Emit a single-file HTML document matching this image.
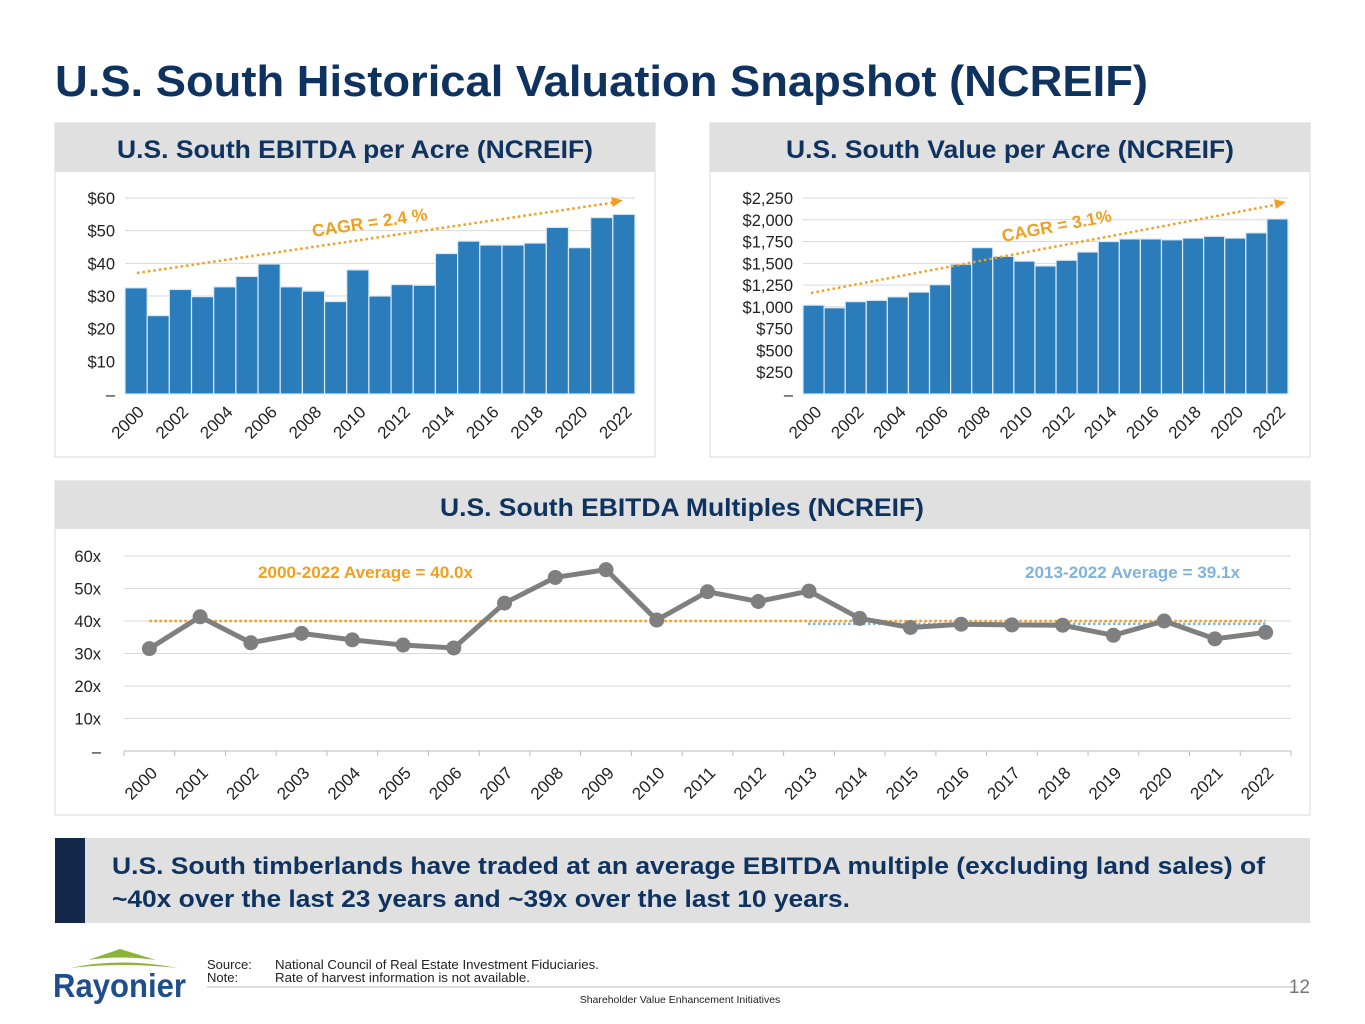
<!DOCTYPE html>
<html><head><meta charset="utf-8">
<style>
body{margin:0;background:#fff;width:1365px;height:1024px;overflow:hidden;font-family:"Liberation Sans",Arial,sans-serif;}
svg{display:block}
</style></head>
<body>
<svg id="s" width="1365" height="1024" viewBox="0 0 1365 1024" xmlns="http://www.w3.org/2000/svg" font-family="Liberation Sans, Arial, sans-serif">
<text x="55" y="96" font-size="44" font-weight="bold" fill="#0f3360" textLength="1093" lengthAdjust="spacingAndGlyphs">U.S. South Historical Valuation Snapshot (NCREIF)</text>
<!-- panels -->
<rect x="55" y="123" width="600" height="334" fill="#fff" stroke="#d9d9d9"/>
<rect x="55" y="123" width="600" height="49" fill="#e0e0e0"/>
<text x="117" y="158" font-size="25" font-weight="bold" fill="#0f3360" textLength="476" lengthAdjust="spacingAndGlyphs">U.S. South EBITDA per Acre (NCREIF)</text>
<rect x="710" y="123" width="600" height="334" fill="#fff" stroke="#d9d9d9"/>
<rect x="710" y="123" width="600" height="49" fill="#e0e0e0"/>
<text x="786" y="158" font-size="25" font-weight="bold" fill="#0f3360" textLength="448" lengthAdjust="spacingAndGlyphs">U.S. South Value per Acre (NCREIF)</text>
<rect x="55" y="481" width="1255" height="334" fill="#fff" stroke="#d9d9d9"/>
<rect x="55" y="481" width="1255" height="48" fill="#e0e0e0"/>
<text x="440" y="516" font-size="25" font-weight="bold" fill="#0f3360" textLength="484" lengthAdjust="spacingAndGlyphs">U.S. South EBITDA Multiples (NCREIF)</text>
<g id="c1"></g><g id="c2"></g><g id="c3"></g>
<!-- callout -->
<rect x="55" y="838" width="1255" height="85" fill="#e0e0e0"/>
<rect x="55" y="838" width="30" height="85" fill="#14284b"/>
<text font-size="24.5" font-weight="bold" fill="#0f3360"><tspan x="112" y="874" textLength="1153" lengthAdjust="spacingAndGlyphs">U.S. South timberlands have traded at an average EBITDA multiple (excluding land sales) of</tspan><tspan x="112" y="907" textLength="738" lengthAdjust="spacingAndGlyphs">~40x over the last 23 years and ~39x over the last 10 years.</tspan></text>
<!-- footer -->
<g>
<path d="M88 960 L120 949 L156 960 Q120 955 88 960 Z" fill="#8cb33c"/>
<path d="M70 968 Q120 957 178 968 Q120 962 70 968 Z" fill="#8cb33c"/>
<text x="53" y="997" font-size="33" font-weight="bold" fill="#1f4e8c" textLength="133" lengthAdjust="spacingAndGlyphs">Rayonier</text>
</g>
<text font-size="13" fill="#222"><tspan x="207" y="969">Source:</tspan><tspan x="275" y="969" textLength="324" lengthAdjust="spacingAndGlyphs">National Council of Real Estate Investment Fiduciaries.</tspan><tspan x="207" y="982">Note:</tspan><tspan x="275" y="982" textLength="255" lengthAdjust="spacingAndGlyphs">Rate of harvest information is not available.</tspan></text>
<line x1="207" y1="987" x2="1297" y2="987" stroke="#bbb"/>
<text x="680" y="1003" font-size="10.5" fill="#222" text-anchor="middle">Shareholder Value Enhancement Initiatives</text>
<text x="1310" y="993" font-size="19" fill="#777" text-anchor="end">12</text>
</svg>
<script>
const years = ["2000","2001","2002","2003","2004","2005","2006","2007","2008","2009","2010","2011","2012","2013","2014","2015","2016","2017","2018","2019","2020","2021","2022"];
const ebitdaValues = [32.5,24,32,29.8,32.8,36,39.8,32.8,31.5,28.3,38,30,33.5,33.3,43,46.8,45.6,45.6,46.2,51,44.8,54,55];
const ebitdaTicks = ["–","$10","$20","$30","$40","$50","$60"];
const valueValues = [1020,990,1060,1075,1115,1170,1255,1490,1680,1580,1525,1470,1535,1630,1750,1780,1780,1770,1790,1810,1790,1850,2010];
const valueTicks = ["–","$250","$500","$750","$1,000","$1,250","$1,500","$1,750","$2,000","$2,250"];
const multipleValues = [31.5,41.3,33.3,36.2,34.2,32.6,31.7,45.5,53.4,55.8,40.3,49,46,49.2,40.8,38,39,38.8,38.7,35.6,40,34.5,36.5];
const multipleTicks = ["–","10x","20x","30x","40x","50x","60x"];
const avgAll = 40.0, avg10 = 39.1;
const NS="http://www.w3.org/2000/svg";
function mk(p,t,a){const e=document.createElementNS(NS,t);for(const k in a)e.setAttribute(k,a[k]);p.appendChild(e);return e;}

function barChart(gid,vals,ticks,step,x0,x1,y0,y1,lbl,arr,name){
  const g=document.getElementById(gid);
  const max=step*(ticks.length-1);
  const ys=v=>y0-(v/max)*(y0-y1);
  const bw=(x1-x0)/vals.length;
  ticks.forEach((t,i)=>{
    const y=ys(i*step);
    if(i>0){const l=mk(g,"line",{x1:x0,x2:x1,y1:y,y2:y,stroke:"#d9d9d9"});
      
      }
    const tx=mk(g,"text",{x:x0-10,y:y+6,"font-size":"16.5","text-anchor":"end",fill:"#222"});tx.textContent=t;
    
    
  });
  vals.forEach((v,i)=>{
    const r=mk(g,"rect",{x:x0+i*bw,y:ys(v),width:bw,height:y0-ys(v),fill:"#2a7dba",stroke:"#dce9f4","stroke-width":"1.2"});
    
    
    if(i%2===0){const cx=x0+i*bw+bw/2+9;const ty=y0+19;
      const t=mk(g,"text",{x:cx,y:ty,"font-size":"17","text-anchor":"end",fill:"#222",transform:`rotate(-45 ${cx} ${ty})`});t.textContent=years[i];
      
      }
  });
  const l=mk(g,"line",{x1:arr[0],y1:arr[1],x2:arr[2]-8,y2:arr[3]+1.5,stroke:"#f0a020","stroke-width":"2.5","stroke-dasharray":"2.5 3"});
  
  
  const ang=Math.atan2(arr[3]-arr[1],arr[2]-arr[0])*180/Math.PI;
  const p=mk(g,"path",{d:"M0 -5 L11 0 L0 5 Z",fill:"#f0a020",transform:`translate(${arr[2]-10} ${arr[3]+1}) rotate(${ang})`});
  
  
  const t=mk(g,"text",{x:lbl[0],y:lbl[1],"font-size":"17.5","font-weight":"bold",fill:"#f0a020",transform:`rotate(${ang} ${lbl[0]} ${lbl[1]})`});
  t.textContent=lbl[2];
  
  
}
barChart("c1",ebitdaValues,ebitdaTicks,10,125,635,394,198,[313,237,"CAGR = 2.4 %"],[137,273,622,201],"ebitda");
barChart("c2",valueValues,valueTicks,250,803,1288,394,198,[1003,242,"CAGR = 3.1%"],[811,293,1285,203],"value");

(function(){
  const g=document.getElementById("c3");
  const x0=124,x1=1291,y0=751,y1=556,max=60;
  const ys=v=>y0-(v/max)*(y0-y1);
  const step=(x1-x0)/years.length;
  const xs=i=>x0+step*(i+0.5);
  multipleTicks.forEach((t,i)=>{
    const y=ys(i*10);
    const l=mk(g,"line",{x1:x0,x2:x1,y1:y,y2:y,stroke:i===0?"#bbb":"#d9d9d9"});
    
    
    const tx=mk(g,"text",{x:101,y:y+6,"font-size":"16.5","text-anchor":"end",fill:"#222"});tx.textContent=t;
    
    
  });
  for(let i=0;i<=years.length;i++){mk(g,"line",{x1:x0+i*step,x2:x0+i*step,y1:y0,y2:y0+5,stroke:"#bbb"});}
  const a=mk(g,"line",{x1:xs(0),x2:xs(22),y1:ys(avgAll),y2:ys(avgAll),stroke:"#f0a020","stroke-width":"2.5","stroke-dasharray":"2.5 2.5"});
  
  
  const b=mk(g,"line",{x1:808,x2:xs(22),y1:ys(avg10),y2:ys(avg10),stroke:"#7fb3dc","stroke-width":"2.5","stroke-dasharray":"2.5 2.5"});
  
  
  const pl=mk(g,"polyline",{points:multipleValues.map((v,i)=>xs(i)+","+ys(v)).join(" "),fill:"none",stroke:"#7f7f7f","stroke-width":"5"});
  
  
  multipleValues.forEach((v,i)=>{
    const c=mk(g,"circle",{cx:xs(i),cy:ys(v),r:"7.5",fill:"#7f7f7f"});
    
    
    const cx=xs(i)+9,ty=y0+23;
    const t=mk(g,"text",{x:cx,y:ty,"font-size":"17","text-anchor":"end",fill:"#222",transform:`rotate(-45 ${cx} ${ty})`});t.textContent=years[i];
    
    
  });
  const t1=mk(g,"text",{x:258,y:578,"font-size":"17","font-weight":"bold",fill:"#f0a020",textLength:"215",lengthAdjust:"spacingAndGlyphs"});t1.textContent="2000-2022 Average = "+avgAll.toFixed(1)+"x";
  
  
  const t2=mk(g,"text",{x:1025,y:578,"font-size":"17","font-weight":"bold",fill:"#7fb3dc",textLength:"215",lengthAdjust:"spacingAndGlyphs"});t2.textContent="2013-2022 Average = "+avg10.toFixed(1)+"x";
  
  
})();
</script>
</body></html>
